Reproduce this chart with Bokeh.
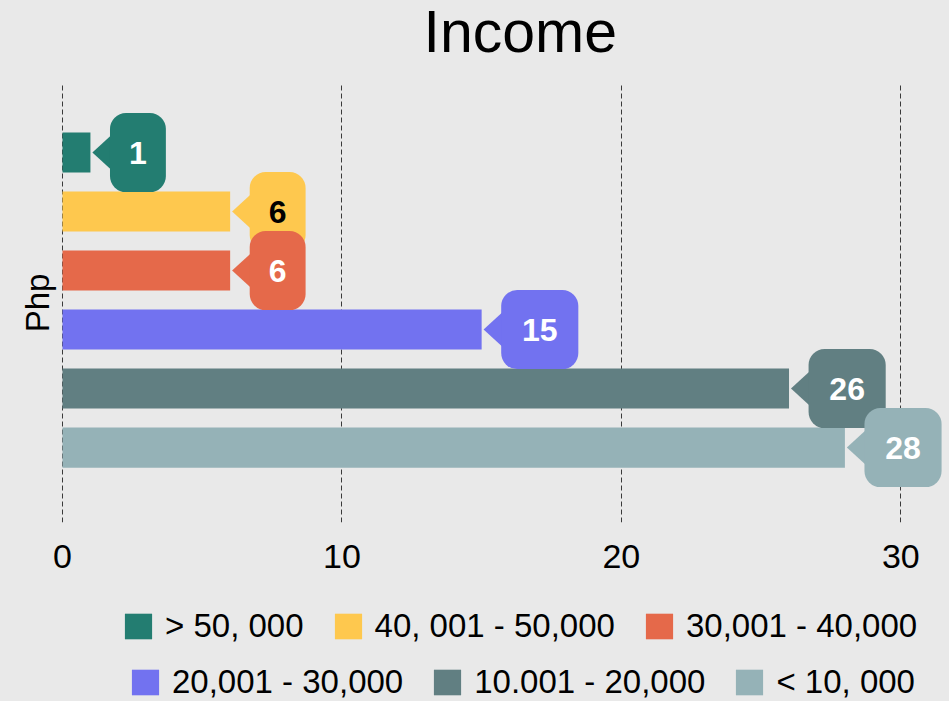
from bokeh.plotting import figure
from bokeh.models import Range1d, FixedTicker, Legend, LegendItem, ColumnDataSource, Label
from bokeh.layouts import column
from bokeh.embed import file_html
from bokeh.resources import INLINE
from bokeh.core.properties import value

# ---- data ----
title_text = "Income"
categories = ["> 50, 000", "40, 001 - 50,000", "30,001 - 40,000",
              "20,001 - 30,000", "10.001 - 20,000", "< 10, 000"]
counts = [1, 6, 6, 15, 26, 28]
colors = ["#237d71", "#fec84e", "#e5694a", "#7272f0", "#617f82", "#95b2b7"]
label_colors = ["white", "black", "white", "white", "white", "white"]
x_ticks = [0, 10, 20, 30]

BG = "#e9e9e9"
FONT = "Liberation Sans"

n = len(categories)
ys = [n - 1 - i for i in range(n)]

# callout geometry (data units)
gap = 0.70
box_w = [2.0 if len(str(v)) == 1 else 2.76 for v in counts]
box_h = 1.34
box_l = [v + gap for v in counts]
box_r = [l + w for l, w in zip(box_l, box_w)]
box_c = [(l + r) / 2 for l, r in zip(box_l, box_r)]

src = ColumnDataSource(dict(
    y=ys, v=counts, cat=categories, color=colors, lc=label_colors,
    bl=box_l, br=box_r, bt=[y + box_h / 2 for y in ys], bb=[y - box_h / 2 for y in ys],
    bc=box_c, txt=[str(v) for v in counts],
))

tri_xs = [[v + 0.07, v + 0.9, v + 0.9] for v in counts]
tri_ys = [[y, y + 0.36, y - 0.36] for y in ys]


def strip(h):
    f = figure(width=949, height=h, x_range=Range1d(0, 1), y_range=Range1d(0, 1),
               output_backend="svg", toolbar_location=None,
               x_axis_location=None, y_axis_location=None,
               min_border_left=0, min_border_right=0, min_border_top=0, min_border_bottom=0)
    f.background_fill_color = None
    f.border_fill_color = BG
    f.outline_line_color = None
    f.grid.visible = False
    return f


# ---- title strip ----
tt = strip(83)
tt.add_layout(Label(x=368, y=52, x_units="screen", y_units="screen", text=title_text,
                    text_font=FONT, text_font_size="59px", text_color="black",
                    text_baseline="alphabetic", text_align="left"))

# ---- main plot ----
p = figure(width=949, height=507, x_range=Range1d(-0.25, 31.6), y_range=Range1d(-1.27, 6.17),
           output_backend="svg", toolbar_location=None,
           min_border_left=55, min_border_right=4, min_border_top=0, min_border_bottom=68)
p.background_fill_color = None
p.border_fill_color = BG
p.outline_line_color = None

bars = p.hbar(y="y", right="v", left=0, height=0.68, fill_color="color", line_color=None, source=src)
p.patches(tri_xs, tri_ys, fill_color=colors, line_color=None)
p.quad(left="bl", right="br", top="bt", bottom="bb", fill_color="color", line_color=None,
       border_radius=16, source=src)
p.text(x="bc", y="y", text="txt", text_color="lc", text_align="center", text_baseline="middle",
       text_font=value(FONT), text_font_size="32px", text_font_style="bold", source=src)

p.xaxis.ticker = FixedTicker(ticks=x_ticks)
p.xaxis.axis_line_color = None
p.xaxis.major_tick_line_color = None
p.xaxis.minor_tick_line_color = None
p.xaxis.major_label_text_font = FONT
p.xaxis.major_label_text_font_size = "34px"
p.xaxis.major_label_text_color = "black"
p.xaxis.major_label_standoff = 16

p.yaxis.ticker = FixedTicker(ticks=[])
p.yaxis.axis_line_color = None
p.yaxis.major_tick_line_color = None
p.yaxis.minor_tick_line_color = None
p.yaxis.axis_label = "Php"
p.yaxis.axis_label_text_font = FONT
p.yaxis.axis_label_text_font_size = "33px"
p.yaxis.axis_label_text_font_style = "normal"
p.yaxis.axis_label_text_color = "black"
p.yaxis.axis_label_standoff = 0
p.yaxis.major_label_standoff = 0

p.xgrid.grid_line_color = "#3a3a3a"
p.xgrid.grid_line_dash = "5 3"
p.xgrid.grid_line_width = 1
p.ygrid.grid_line_color = None

# ---- legend strip ----
lg = strip(111)
lg.x_range = Range1d(100, 200)
lg.y_range = Range1d(100, 200)
lbars = lg.hbar(y="y", right="v", left=0, height=0.68, fill_color="color", line_color=None, source=src)

items = [LegendItem(label=c, renderers=[lbars], index=i) for i, c in enumerate(categories)]


def make_legend(its, loc):
    return Legend(items=its, orientation="horizontal", location=loc,
                  background_fill_alpha=0, border_line_color=None,
                  label_text_font=FONT, label_text_font_size="33px", label_text_color="black",
                  glyph_width=34, glyph_height=32, label_standoff=10, spacing=27,
                  padding=0, margin=0)


lg.add_layout(make_legend(items[:3], (66, 56)), "center")
lg.add_layout(make_legend(items[3:], (73, 0)), "center")

layout = column(tt, p, lg, spacing=0, styles={"background-color": BG})
open("out.html", "w").write(file_html(layout, INLINE))
